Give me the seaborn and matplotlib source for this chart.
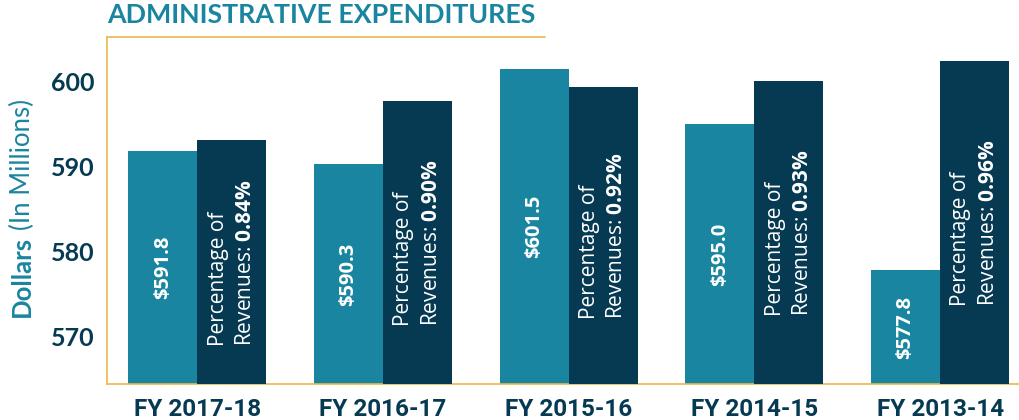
import numpy as np
import pandas as pd
import seaborn as sns
import matplotlib.pyplot as plt

# values
years = ['FY 2017-18', 'FY 2016-17', 'FY 2015-16', 'FY 2014-15', 'FY 2013-14']
dollars = [591.8, 590.3, 601.5, 595.0, 577.8]
pct = [0.84, 0.90, 0.92, 0.93, 0.96]
yticks = [570, 580, 590, 600]

teal = '#1A85A0'
navy = '#063A52'
gold = '#E9B949'

sns.set_style('white')
plt.rcParams['font.family'] = ['Lato', 'DejaVu Sans']
plt.rcParams['mathtext.fontset'] = 'custom'
plt.rcParams['mathtext.rm'] = 'Open Sans'
plt.rcParams['mathtext.bf'] = 'Open Sans:bold'
plt.rcParams['mathtext.it'] = 'Open Sans:italic'

df_d = pd.DataFrame({'year': years, 'value': dollars, 'series': 'Dollars'})
df_p = pd.DataFrame({'year': years, 'value': pct, 'series': 'Pct'})
order = ['Dollars', 'Pct']
pal = {'Dollars': teal, 'Pct': navy}

fig = plt.figure(figsize=(10.2, 4.2), dpi=100)
ax = fig.add_axes([0.105, 0.0857, 0.895, 0.826])
ax2 = ax.twinx()

sns.barplot(data=df_d, x='year', y='value', hue='series', hue_order=order, dodge=True,
            palette=pal, width=0.744, saturation=1, legend=False, linewidth=0, ax=ax)
sns.barplot(data=df_p, x='year', y='value', hue='series', hue_order=order, dodge=True,
            palette=pal, width=0.744, saturation=1, legend=False, linewidth=0, ax=ax2)

ylo, yhi = 564.4, 605.26
plo, phi = 0.472, 0.996
ax.set_ylim(ylo, yhi)
ax2.set_ylim(plo, phi)
ax.set_xlim(-0.485, 4.43)

ax.set_yticks(yticks)
ax.tick_params(axis='y', length=0, pad=9, labelsize=18, labelcolor=navy)
ax.tick_params(axis='x', length=0, pad=10)
for lab in ax.get_yticklabels():
    lab.set_fontweight('bold')
ax.set_xticks(range(len(years)))
ax.set_xticklabels(years, family='Roboto', fontsize=17.5, fontweight='bold', color=navy)
ax.set_xlabel('')
ax.set_ylabel('')
ax2.set_ylabel('')
ax2.set_yticks([])
ax2.tick_params(length=0)

for a in (ax, ax2):
    for s in a.spines.values():
        s.set_visible(False)
ax.spines['left'].set_visible(True)
ax.spines['bottom'].set_visible(True)
ax.spines['left'].set_color(gold)
ax.spines['bottom'].set_color(gold)
ax.spines['left'].set_linewidth(1.2)
ax.spines['bottom'].set_linewidth(1.2)
ax.axhline(yhi, xmin=0, xmax=0.48, color=gold, lw=1.2, clip_on=False)

# labels inside the bars
off = 0.186
for i, (d, p) in enumerate(zip(dollars, pct)):
    ax.text(i - off, (d + ylo) / 2, f'${d:.1f}', rotation=90, ha='center', va='center',
            color='white', fontsize=14.5, fontweight='bold', family='Open Sans')
    ax2.text(i + off, (p + plo) / 2, 'Percentage of\nRevenues: $\\bf{' + f'{p:.2f}' + '\\%}$',
             rotation=90, ha='center', va='center', multialignment='left',
             color='white', fontsize=15, linespacing=1.4, family='Open Sans')

fig.text(0.105, 0.945, 'ADMINISTRATIVE EXPENDITURES', ha='left', va='baseline',
         color=teal, fontsize=19.3, fontweight='bold')
t1 = fig.text(0.0216, 0.245, 'Dollars', rotation=90, ha='center', va='bottom',
              color=teal, fontsize=18.5, fontweight='bold')
ylab2 = plt.annotate('(In Millions)', xy=(0.5, 1), xycoords=t1, xytext=(0, 4),
                     textcoords='offset points', rotation=90, ha='center', va='bottom',
                     color=teal, fontsize=18.5, annotation_clip=False)

fig.savefig('out.png', dpi=100)
